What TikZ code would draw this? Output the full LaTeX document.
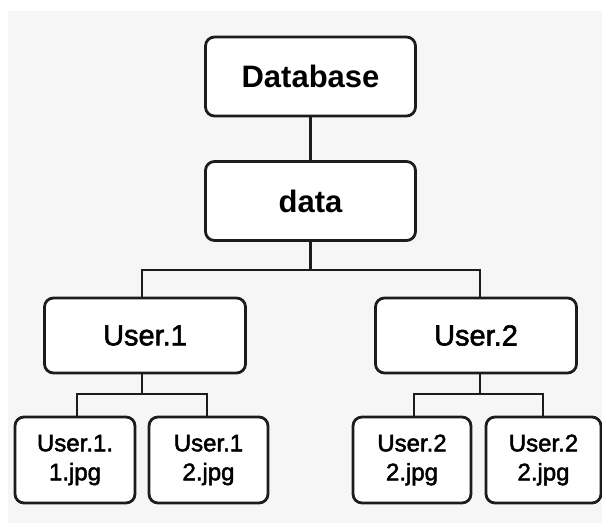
\documentclass[tikz,border=0pt]{standalone}
\usepackage{fontspec}
\setmainfont{Liberation Sans}
\newfontfamily\medfont{Liberation Sans}[FakeBold=2]
\definecolor{panel}{HTML}{F6F6F6}
\definecolor{ink}{HTML}{1C1C1C}
\tikzset{
  box/.style={draw=ink, fill=white, line width=2.8pt, rounded corners=9pt, inner sep=0pt, align=center},
  topbox/.style={box, minimum width=210pt, minimum height=79pt, font=\fontsize{31}{34}\selectfont\bfseries},
  userbox/.style={box, minimum width=201pt, minimum height=75pt, font=\fontsize{29}{33}\selectfont\medfont},
  leafbox/.style={box, minimum height=86pt, font=\fontsize{24}{29}\selectfont\medfont},
  link/.style={draw=ink, line width=2.8pt}
}
\begin{document}
\begin{tikzpicture}[x=1pt,y=-1pt]
\useasboundingbox (0,0) rectangle (602,529);
\fill[white] (0,0) rectangle (602,529);
\fill[panel] (8,11) rectangle (602,523);

\node[topbox] (db) at (310.5,76.5) {Database};
\node[topbox] (data) at (310.5,201) {data};
\node[userbox] (u1) at (145,335.5) {User.1};
\node[userbox] (u2) at (476,335.5) {User.2};
\node[leafbox, minimum width=120pt] (l1) at (75,460) {User.1.\\1.jpg};
\node[leafbox, minimum width=119pt] (l2) at (208.5,460) {User.1\\2.jpg};
\node[leafbox, minimum width=118pt] (l3) at (412,460) {User.2\\2.jpg};
\node[leafbox, minimum width=115pt] (l4) at (543.5,460) {User.2\\2.jpg};

\coordinate (t1) at (142,270);
\coordinate (t2) at (480,270);
\coordinate (a1) at (77,394);
\coordinate (a2) at (207,394);
\coordinate (b1) at (414,394);
\coordinate (b2) at (543,394);

\draw[link] (db.south) -- (data.north);
\draw[link] (data.south) -- (data.south |- t1);
\draw[link] (t1 |- u1.north) -- (t1) -- (t2) -- (t2 |- u2.north);
\draw[link] (t1 |- u1.south) -- (t1 |- a1);
\draw[link] (t2 |- u2.south) -- (t2 |- b1);
\draw[link] (a1 |- l1.north) -- (a1) -- (a2) -- (a2 |- l2.north);
\draw[link] (b1 |- l3.north) -- (b1) -- (b2) -- (b2 |- l4.north);
\end{tikzpicture}
\end{document}
